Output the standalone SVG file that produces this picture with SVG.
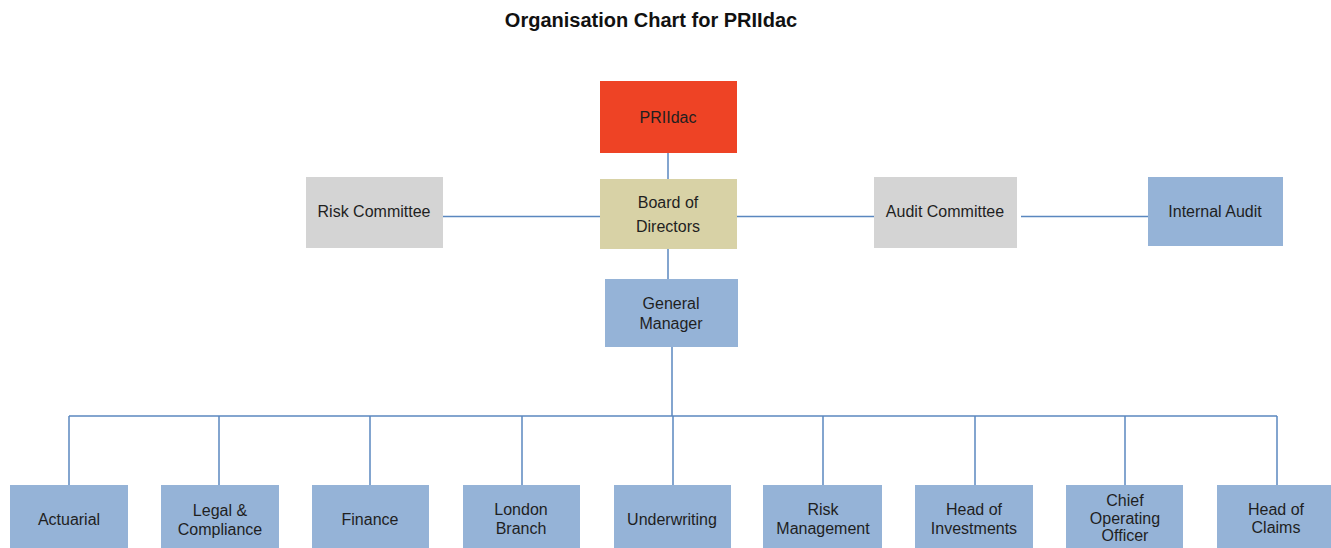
<svg xmlns="http://www.w3.org/2000/svg" width="1331" height="548" viewBox="0 0 1331 548">
  <style>
    text { font-family: "Liberation Sans", Arial, sans-serif; font-size: 16px; fill: #1f1f1f; text-anchor: middle; }
    .title { font-size: 20px; font-weight: bold; fill: #111; }
    .red { fill: #EE4325; }
    .tan { fill: #D8D2A6; }
    .grey { fill: #D4D4D4; }
    .blue { fill: #95B3D7; }
    .conn { stroke: #5A87BF; stroke-width: 1.5; fill: none; }
  </style>
  <rect width="1331" height="548" fill="#ffffff"/>
  <text class="title" x="651" y="27">Organisation Chart for PRIIdac</text>

  <g id="connectors">
    <line class="conn" x1="668" y1="153" x2="668" y2="179"/>
    <line class="conn" x1="668" y1="249" x2="668" y2="279"/>
    <line class="conn" x1="443" y1="216.5" x2="600" y2="216.5"/>
    <line class="conn" x1="737" y1="216.5" x2="874" y2="216.5"/>
    <line class="conn" x1="1021" y1="216.5" x2="1148" y2="216.5"/>
    <line class="conn" x1="672" y1="347" x2="672" y2="416"/>
    <line class="conn" x1="69" y1="416" x2="1277" y2="416"/>
    <line class="conn" x1="69" y1="416" x2="69" y2="485"/>
    <line class="conn" x1="219" y1="416" x2="219" y2="485"/>
    <line class="conn" x1="370" y1="416" x2="370" y2="485"/>
    <line class="conn" x1="522" y1="416" x2="522" y2="485"/>
    <line class="conn" x1="673" y1="416" x2="673" y2="485"/>
    <line class="conn" x1="823" y1="416" x2="823" y2="485"/>
    <line class="conn" x1="975" y1="416" x2="975" y2="485"/>
    <line class="conn" x1="1125" y1="416" x2="1125" y2="485"/>
    <line class="conn" x1="1277" y1="416" x2="1277" y2="485"/>
  </g>

  <g id="priidac">
    <rect class="red" x="600" y="81" width="137" height="72"/>
    <text x="668" y="123">PRIIdac</text>
  </g>
  <g id="board">
    <rect class="tan" x="600" y="179" width="137" height="70"/>
    <text x="668" y="208">Board of</text>
    <text x="668" y="232">Directors</text>
  </g>
  <g id="risk-committee">
    <rect class="grey" x="306" y="177" width="137" height="71"/>
    <text x="374" y="217">Risk Committee</text>
  </g>
  <g id="audit-committee">
    <rect class="grey" x="874" y="177" width="143" height="71"/>
    <text x="945" y="217">Audit Committee</text>
  </g>
  <g id="internal-audit">
    <rect class="blue" x="1148" y="177" width="135" height="69"/>
    <text x="1215" y="217">Internal Audit</text>
  </g>
  <g id="general-manager">
    <rect class="blue" x="605" y="279" width="133" height="68"/>
    <text x="671" y="309">General</text>
    <text x="671" y="329">Manager</text>
  </g>

  <g id="actuarial">
    <rect class="blue" x="10" y="485" width="118" height="70"/>
    <text x="69" y="525">Actuarial</text>
  </g>
  <g id="legal">
    <rect class="blue" x="161" y="485" width="118" height="70"/>
    <text x="220" y="516">Legal &amp;</text>
    <text x="220" y="535">Compliance</text>
  </g>
  <g id="finance">
    <rect class="blue" x="312" y="485" width="117" height="70"/>
    <text x="370" y="525">Finance</text>
  </g>
  <g id="london">
    <rect class="blue" x="463" y="485" width="117" height="70"/>
    <text x="521" y="515">London</text>
    <text x="521" y="534">Branch</text>
  </g>
  <g id="underwriting">
    <rect class="blue" x="614" y="485" width="117" height="70"/>
    <text x="672" y="525">Underwriting</text>
  </g>
  <g id="risk-management">
    <rect class="blue" x="763" y="485" width="119" height="70"/>
    <text x="823" y="515">Risk</text>
    <text x="823" y="534">Management</text>
  </g>
  <g id="investments">
    <rect class="blue" x="915" y="485" width="118" height="70"/>
    <text x="974" y="515">Head of</text>
    <text x="974" y="534">Investments</text>
  </g>
  <g id="coo">
    <rect class="blue" x="1066" y="485" width="117" height="70"/>
    <text x="1125" y="506">Chief</text>
    <text x="1125" y="524">Operating</text>
    <text x="1125" y="541">Officer</text>
  </g>
  <g id="claims">
    <rect class="blue" x="1217" y="485" width="118" height="70"/>
    <text x="1276" y="515">Head of</text>
    <text x="1276" y="533">Claims</text>
  </g>
</svg>
